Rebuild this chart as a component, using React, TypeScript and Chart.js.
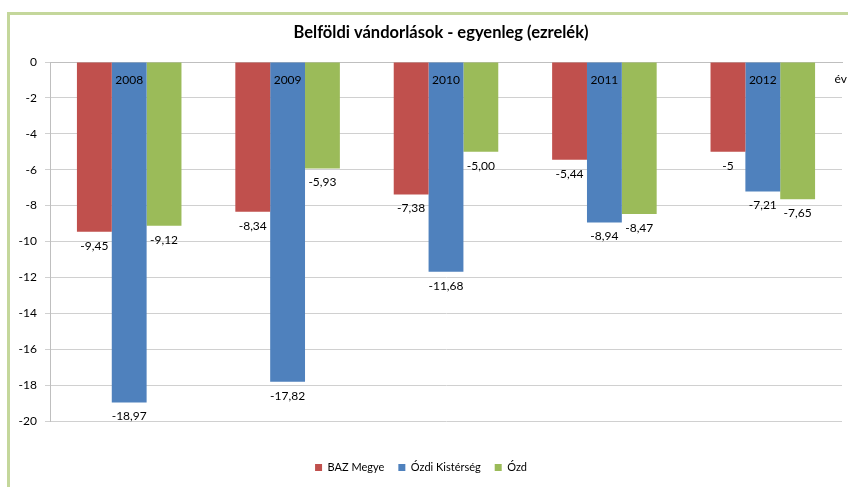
import React, { useEffect, useRef } from "react";
import { Chart, registerables } from "chart.js";

Chart.register(...registerables);

const categories = ["2008", "2009", "2010", "2011", "2012"];
const bazMegye = [-9.45, -8.34, -7.38, -5.44, -5];
const ozdiKisterseg = [-18.97, -17.82, -11.68, -8.94, -7.21];
const ozd = [-9.12, -5.93, -5.0, -8.47, -7.65];
const bazLabels = ["-9,45", "-8,34", "-7,38", "-5,44", "-5"];
const kistersegLabels = ["-18,97", "-17,82", "-11,68", "-8,94", "-7,21"];
const ozdLabels = ["-9,12", "-5,93", "-5,00", "-8,47", "-7,65"];
const seriesNames = ["BAZ Megye", "Ózdi Kistérség", "Ózd"];
const yMin = -20;
const yMax = 0;
const yStep = 2;
const titleText = "Belföldi vándorlások - egyenleg (ezrelék)";
const xAxisTitle = "év";

const FONT = "Lato, 'Open Sans', sans-serif";

const valueLabelPlugin = {
  id: "valueLabels",
  afterDatasetsDraw(chart: any) {
    const ctx = chart.ctx;
    const allLabels = [bazLabels, kistersegLabels, ozdLabels];
    ctx.save();
    ctx.font = `12px ${FONT}`;
    ctx.fillStyle = "#000";
    ctx.textAlign = "center";
    ctx.textBaseline = "middle";
    chart.data.datasets.forEach((_ds: any, di: number) => {
      const meta = chart.getDatasetMeta(di);
      meta.data.forEach((el: any, i: number) => {
        ctx.fillText(allLabels[di][i], el.x, el.y + 14);
      });
    });
    ctx.restore();
  },
};

const textPlugin = {
  id: "extraText",
  afterDraw(chart: any) {
    const ctx = chart.ctx;
    const area = chart.chartArea;
    ctx.save();
    ctx.fillStyle = "#000";
    ctx.textBaseline = "middle";
    ctx.font = `bold 16.5px ${FONT}`;
    ctx.textAlign = "center";
    ctx.fillText(titleText, 441, 33);
    ctx.font = `12px ${FONT}`;
    ctx.textAlign = "right";
    ctx.fillText(xAxisTitle, chart.width - 1, area.top + 17);
    ctx.restore();
  },
};

export default function App() {
  const canvasRef = useRef<HTMLCanvasElement | null>(null);

  useEffect(() => {
    if (!canvasRef.current) return;
    const chart = new Chart(canvasRef.current, {
      type: "bar",
      data: {
        labels: categories,
        datasets: [
          { label: seriesNames[0], data: bazMegye, backgroundColor: "#C0504D" },
          { label: seriesNames[1], data: ozdiKisterseg, backgroundColor: "#4F81BD" },
          { label: seriesNames[2], data: ozd, backgroundColor: "#9BBB59" },
        ],
      },
      options: {
        animation: false,
        responsive: false,
        maintainAspectRatio: false,
        layout: { padding: { left: 0, right: 6, top: 62, bottom: 4 } },
        datasets: {
          bar: { categoryPercentage: 0.66, barPercentage: 1.0, borderWidth: 0 },
        },
        scales: {
          x: {
            position: { y: 0 } as any,
            grid: { display: false },
            border: { display: true, color: "#BFBFBF" },
            ticks: { z: 1, padding: 3, color: "#000", font: { family: FONT, size: 12 } } as any,
          },
          y: {
            min: yMin,
            max: yMax,
            afterFit(scale: any) {
              scale.width = 50;
            },
            ticks: {
              stepSize: yStep,
              padding: 8,
              color: "#000",
              font: { family: FONT, size: 12 },
            },
            grid: { color: "#D0D0D0", tickLength: 5 },
            border: { display: true, color: "#BFBFBF" },
          },
        },
        plugins: {
          title: { display: false },
          legend: {
            position: "bottom",
            title: { display: true, text: " ", font: { family: FONT, size: 10 }, padding: { top: 15, bottom: 0 } },
            labels: {
              boxWidth: 7,
              boxHeight: 7,
              padding: 14,
              color: "#000",
              font: { family: FONT, size: 11 },
            },
          },
          tooltip: { enabled: false },
        },
      },
      plugins: [valueLabelPlugin, textPlugin],
    });
    return () => chart.destroy();
  }, []);

  return (
    <div
      style={{
        position: "absolute",
        left: 0,
        top: 0,
        width: 848,
        height: 487,
        overflow: "hidden",
        background: "#fff",
      }}
    >
      <div
        style={{
          position: "absolute",
          left: 7,
          top: 12,
          width: 900,
          height: 540,
          border: "3px solid #C4D79B",
          boxSizing: "border-box",
        }}
      />
      <canvas
        ref={canvasRef}
        width={848}
        height={487}
        style={{ position: "absolute", left: 0, top: 0, width: 848, height: 487 }}
      />
    </div>
  );
}
